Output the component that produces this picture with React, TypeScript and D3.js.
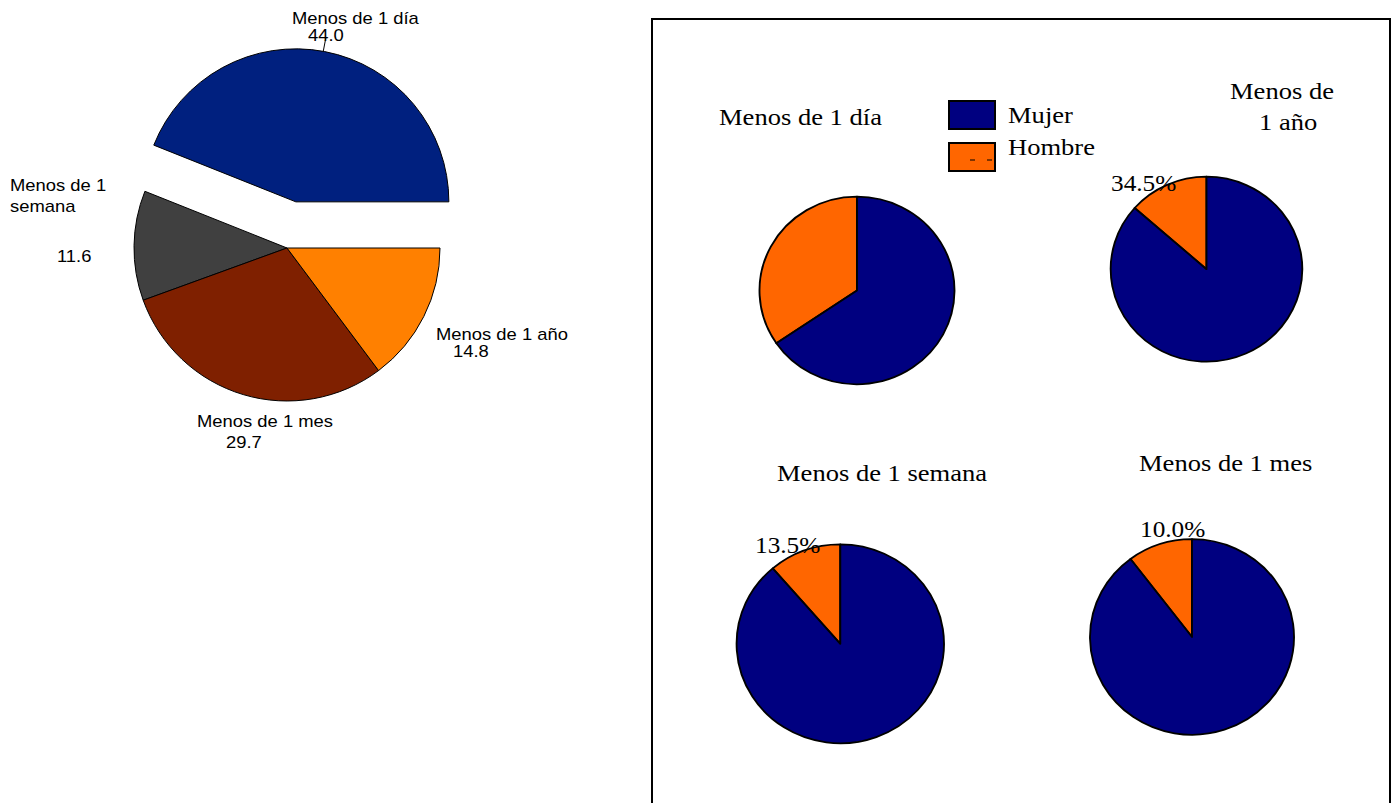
import React from "react";
import * as d3 from "d3";

// Left pie: total distribution
const mainCategories = ["Menos de 1 día", "Menos de 1 semana", "Menos de 1 mes", "Menos de 1 año"];
const mainValues = [44.0, 11.6, 29.7, 14.8];
const mainValueLabels = ["44.0", "11.6", "29.7", "14.8"];
const mainColors = ["#00207f", "#404040", "#7f2000", "#ff8000"];

// Right panel: share by sex for each category
const panelTitles = [["Menos de 1 día"], ["Menos de", "1 año"], ["Menos de 1 semana"], ["Menos de 1 mes"]];
const hombrePct = [34.5, 13.5, 11.3, 10.3];
const pctLabels = ["", "34.5%", "13.5%", "10.0%"];
const sexes = ["Mujer", "Hombre"];
const sexColors = ["#000080", "#ff6600"];

// layout (not data)
const mainCenter = { x: 287, y: 248, r: 153, explode: 47 };
const mainLabelPos = [
  { lines: [{ t: "Menos de 1 día", x: 292, y: 24 }], val: { x: 308, y: 40.5 } },
  { lines: [{ t: "Menos de 1", x: 10, y: 191 }, { t: "semana", x: 10, y: 212 }], val: { x: 57, y: 262 } },
  { lines: [{ t: "Menos de 1 mes", x: 197, y: 427 }], val: { x: 226, y: 448 } },
  { lines: [{ t: "Menos de 1 año", x: 436, y: 340 }], val: { x: 453, y: 357 } },
];
const smallPies = [
  { cx: 857, cy: 290.5, rx: 97.5, ry: 93.8, title: [{ x: 719, y: 125 }], pct: null },
  { cx: 1206.5, cy: 269.2, rx: 95.8, ry: 92.5, title: [{ x: 1230, y: 99 }, { x: 1259, y: 130 }], pct: { x: 1111, y: 191 } },
  { cx: 840.3, cy: 643.8, rx: 103.7, ry: 99.5, title: [{ x: 777, y: 481 }], pct: { x: 755, y: 553 } },
  { cx: 1192, cy: 637, rx: 102, ry: 97.8, title: [{ x: 1139, y: 471 }], pct: { x: 1140, y: 537 } },
];

const SANS = "'Liberation Sans', Arial, sans-serif";
const SERIF = "'Liberation Serif', 'Times New Roman', serif";

function SText({ x, y, children, font, size, sx }: any) {
  return (
    <text transform={`translate(${x},${y}) scale(${sx},1)`} fontFamily={font} fontSize={size} fill="#000">
      {children}
    </text>
  );
}

export default function App() {
  const pie = d3
    .pie<number>()
    .sort(null)
    .value((d) => d)
    .startAngle(Math.PI / 2)
    .endAngle(Math.PI / 2 - 2 * Math.PI);
  const mainArcs = pie(mainValues);
  const arc = d3.arc<any>().innerRadius(0).outerRadius(mainCenter.r);

  const smallPie = d3
    .pie<number>()
    .sort(null)
    .value((d) => d)
    .startAngle(0)
    .endAngle(-2 * Math.PI);

  // leader line for first label
  const blueMid = (mainArcs[0].startAngle + mainArcs[0].endAngle) / 2;
  const bx = mainCenter.x + Math.sin(blueMid) * mainCenter.explode;
  const by = mainCenter.y - Math.cos(blueMid) * mainCenter.explode;
  const leadAngle = 0.18;

  return (
    <svg width={1397} height={803} style={{ position: "absolute", left: 0, top: 0 }}>
      <rect width={1397} height={803} fill="#fff" />
      {/* Left pie */}
      {mainArcs.map((a, i) => {
        const mid = (a.startAngle + a.endAngle) / 2;
        const off = i === 0 ? mainCenter.explode : 0;
        const tx = mainCenter.x + Math.sin(mid) * off;
        const ty = mainCenter.y - Math.cos(mid) * off;
        return (
          <path
            key={mainCategories[i]}
            d={arc(a) as string}
            transform={`translate(${tx},${ty})`}
            fill={mainColors[i]}
            stroke="#000"
            strokeWidth={1}
          />
        );
      })}
      <line
        x1={326}
        y1={37}
        x2={bx + Math.sin(leadAngle) * mainCenter.r}
        y2={by - Math.cos(leadAngle) * mainCenter.r}
        stroke="#000"
        strokeWidth={1}
      />
      {mainLabelPos.map((p, i) => (
        <g key={"ml" + i}>
          {p.lines.map((l, j) => (
            <SText key={j} x={l.x} y={l.y} font={SANS} size={16} sx={1.15}>
              {l.t}
            </SText>
          ))}
          <SText x={p.val.x} y={p.val.y} font={SANS} size={16} sx={1.15}>
            {mainValueLabels[i]}
          </SText>
        </g>
      ))}

      {/* Right panel */}
      <rect x={652} y={19} width={738} height={820} fill="none" stroke="#000" strokeWidth={2} />
      {smallPies.map((p, i) => {
        const arcs = smallPie([hombrePct[i], 100 - hombrePct[i]]);
        const sArc = d3.arc<any>().innerRadius(0).outerRadius(p.ry);
        const colorOrder = [sexColors[1], sexColors[0]];
        return (
          <g key={"sp" + i}>
            <g transform={`translate(${p.cx},${p.cy}) scale(${p.rx / p.ry},1)`}>
              {arcs.map((a, k) => (
                <path key={k} d={sArc(a) as string} fill={colorOrder[k]} stroke="#000" strokeWidth={1.8} strokeLinejoin="round" />
              ))}
            </g>
            {panelTitles[i].map((t, j) => (
              <SText key={j} x={p.title[j].x} y={p.title[j].y} font={SERIF} size={23} sx={1.155}>
                {t}
              </SText>
            ))}
            {p.pct && (
              <SText x={p.pct.x} y={p.pct.y} font={SERIF} size={23} sx={1.1}>
                {pctLabels[i]}
              </SText>
            )}
          </g>
        );
      })}
      {/* Legend */}
      {sexes.map((s, i) => (
        <g key={s}>
          <rect x={949} y={101 + i * 42} width={46} height={28} fill={sexColors[i]} stroke="#000" strokeWidth={2} />
          <SText x={1008} y={123 + i * 32} font={SERIF} size={23} sx={1.155}>
            {s}
          </SText>
        </g>
      ))}
      <line x1={970} y1={160} x2={975} y2={160} stroke="#000" strokeWidth={1} />
      <line x1={987} y1={160} x2={992} y2={160} stroke="#000" strokeWidth={1} />
    </svg>
  );
}
